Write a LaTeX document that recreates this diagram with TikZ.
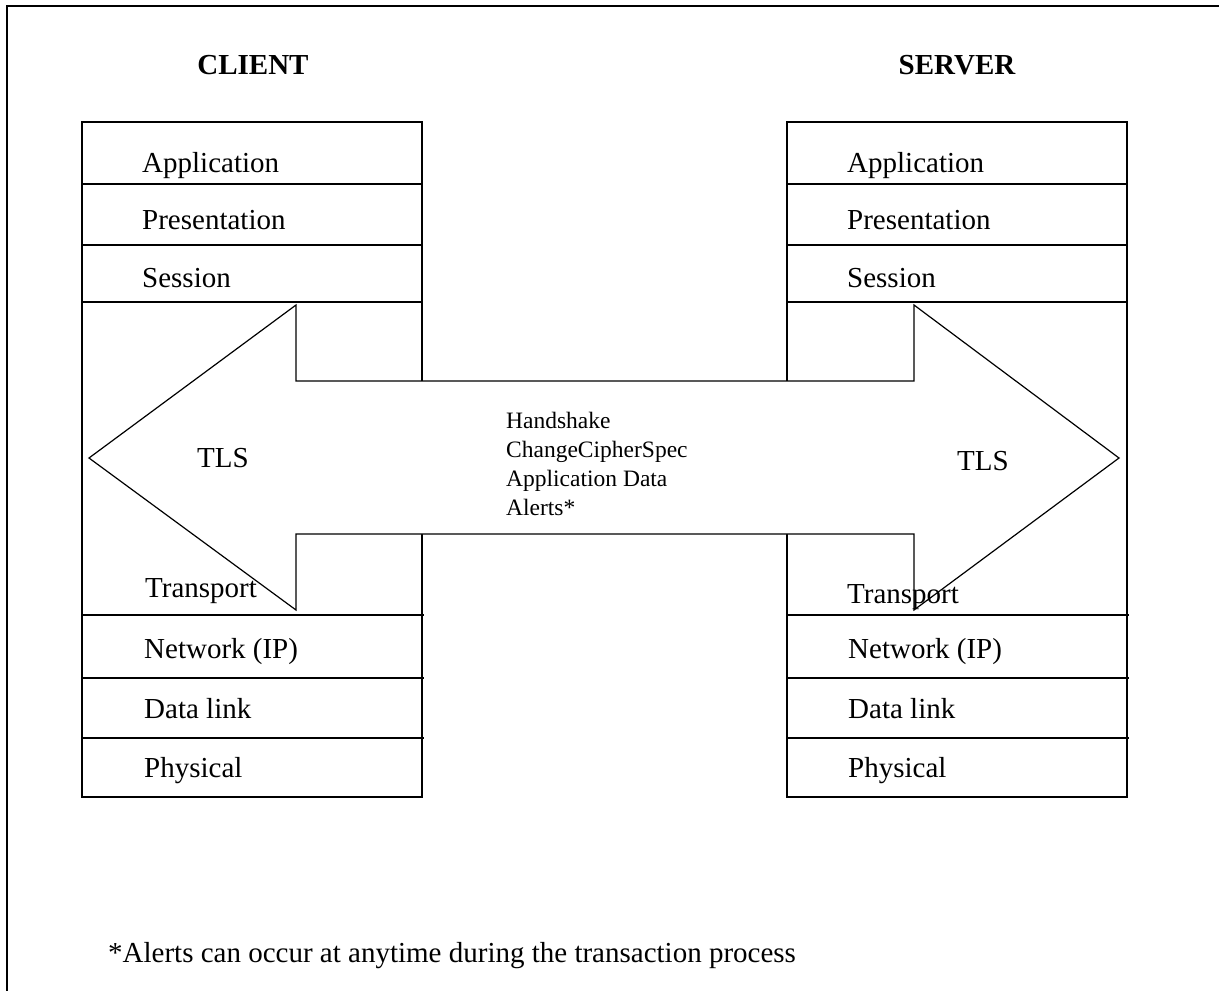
\documentclass[tikz,border=0pt]{standalone}
\usepackage{fontspec}
\setmainfont{Liberation Serif}
\begin{document}
\begin{tikzpicture}[x=1pt,y=-1pt,
  box/.style={draw=black,line width=1.2pt},
  rowline/.style={draw=black,line width=1.2pt},
  frame/.style={draw=black,line width=1.8pt},
  tlsarrow/.style={draw=black,fill=white,line width=1.2pt,line join=miter},
  lbl/.style={anchor=base west,inner sep=0pt,font=\fontsize{29}{34}\selectfont},
  head/.style={anchor=base,inner sep=0pt,font=\fontsize{29}{34}\selectfont\bfseries},
  msg/.style={anchor=base west,inner sep=0pt,font=\fontsize{23.5}{29}\selectfont}]
\useasboundingbox (0,0) rectangle (1219,991);
\clip (0,0) rectangle (1219,991);
\fill[white] (0,0) rectangle (1219,991);
% outer frame (open to the right and bottom)
\draw[frame] (7,1000) -- (7,6) -- (1230,6);
% client stack
\draw[box] (82,122) rectangle (422,797);
\foreach \y in {184,245,302} \draw[rowline] (82,\y) -- (422,\y);
\foreach \y in {615,678,738} \draw[rowline] (82,\y) -- (424,\y);
% server stack
\draw[box] (787,122) rectangle (1127,797);
\foreach \y in {184,245,302} \draw[rowline] (787,\y) -- (1127,\y);
\foreach \y in {615,678,738} \draw[rowline] (787,\y) -- (1129,\y);
% TLS double arrow
\draw[tlsarrow] (89,458) -- (296,305) -- (296,381) -- (914,381) -- (914,305)
  -- (1119,458) -- (914,610) -- (914,534) -- (296,534) -- (296,610) -- cycle;
% headings
\node[head] (client) at (253,74) {CLIENT};
\node[head] (server) at (957,74) {SERVER};
% client labels
\node[lbl] (capp) at (142,172) {Application};
\node[lbl] (cpre) at (142,229) {Presentation};
\node[lbl] (cses) at (142,287) {Session};
\node[lbl] (ctra) at (145,597) {Transport};
\node[lbl] (cnet) at (144,658) {Network (IP)};
\node[lbl] (cdat) at (144,718) {Data link};
\node[lbl] (cphy) at (144,777) {Physical};
% server labels
\node[lbl] (sapp) at (847,172) {Application};
\node[lbl] (spre) at (847,229) {Presentation};
\node[lbl] (sses) at (847,287) {Session};
\node[lbl] (stra) at (847,603) {Transport};
\node[lbl] (snet) at (848,658) {Network (IP)};
\node[lbl] (sdat) at (848,718) {Data link};
\node[lbl] (sphy) at (848,777) {Physical};
% TLS labels
\node[lbl] (tlsl) at (197,467) {TLS};
\node[lbl] (tlsr) at (957,470) {TLS};
% message types
\node[msg] (m1) at (506,428) {Handshake};
\node[msg] (m2) at (506,457) {ChangeCipherSpec};
\node[msg] (m3) at (506,486) {Application Data};
\node[msg] (m4) at (506,515) {Alerts*};
% footnote
\node[lbl] (note) at (108,962) {*Alerts can occur at anytime during the transaction process};
\end{tikzpicture}
\end{document}
